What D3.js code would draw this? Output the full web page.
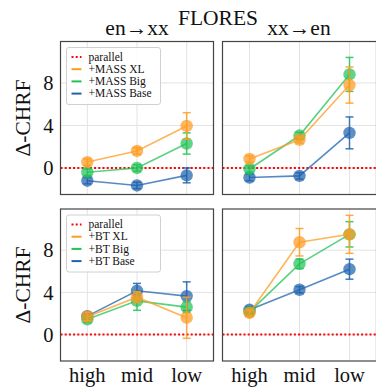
<!DOCTYPE html>
<html>
<head>
<meta charset="utf-8">
<script src="https://cdn.jsdelivr.net/npm/d3@7"></script>
</head>
<body style="margin:0; background:#fff">
<svg width="376" height="387"></svg>
<script>
// categories and tick labels
var levels = ["high", "mid", "low"];
var yTicks = [0, 4, 8];

// MASS, en->xx  (mean, error)
var massXlEnXx = [0.55, 1.6, 3.95];
var massXlEnXxErr = [0.3, 0.3, 1.25];
var massBigEnXx = [-0.4, 0.0, 2.3];
var massBigEnXxErr = [0.3, 0.3, 1.0];
var massBaseEnXx = [-1.2, -1.65, -0.7];
var massBaseEnXxErr = [0.3, 0.3, 0.7];

// MASS, xx->en
var massXlXxEn = [0.85, 2.65, 7.8];
var massXlXxEnErr = [0.3, 0.3, 1.7];
var massBigXxEn = [-0.1, 3.05, 8.8];
var massBigXxEnErr = [0.3, 0.3, 1.6];
var massBaseXxEn = [-0.9, -0.75, 3.3];
var massBaseXxEnErr = [0.3, 0.3, 1.5];

// BT, en->xx
var btXlEnXx = [1.7, 3.55, 1.6];
var btXlEnXxErr = [0.4, 0.5, 1.95];
var btBigEnXx = [1.45, 3.2, 2.6];
var btBigEnXxErr = [0.3, 0.9, 0.5];
var btBaseEnXx = [1.75, 4.15, 3.65];
var btBaseEnXxErr = [0.3, 0.7, 1.35];

// BT, xx->en
var btXlXxEn = [2.05, 8.75, 9.5];
var btXlXxEnErr = [0.3, 1.3, 1.8];
var btBigXxEn = [2.15, 6.7, 9.5];
var btBigXxEnErr = [0.3, 0.45, 1.2];
var btBaseXxEn = [2.35, 4.25, 6.2];
var btBaseXxEnErr = [0.3, 0.3, 0.95];

var colors = { xl: "#ff9b21", big: "#22c257", base: "#1f63ad" };
var FONT = "Liberation Serif";

var svg = d3.select("svg");

var colX = [[60.5, 213.5], [222.5, 376.5]];
var rowY = [[41.5, 194.5], [209, 361]];

var panels = [
    { col: 0, row: 0, series: [
        { key: "base", name: "+MASS Base", v: massBaseEnXx, e: massBaseEnXxErr },
        { key: "big", name: "+MASS Big", v: massBigEnXx, e: massBigEnXxErr },
        { key: "xl", name: "+MASS XL", v: massXlEnXx, e: massXlEnXxErr }] },
    { col: 1, row: 0, series: [
        { key: "base", v: massBaseXxEn, e: massBaseXxEnErr },
        { key: "big", v: massBigXxEn, e: massBigXxEnErr },
        { key: "xl", v: massXlXxEn, e: massXlXxEnErr }] },
    { col: 0, row: 1, series: [
        { key: "base", name: "+BT Base", v: btBaseEnXx, e: btBaseEnXxErr },
        { key: "big", name: "+BT Big", v: btBigEnXx, e: btBigEnXxErr },
        { key: "xl", name: "+BT XL", v: btXlEnXx, e: btXlEnXxErr }] },
    { col: 1, row: 1, series: [
        { key: "base", v: btBaseXxEn, e: btBaseXxEnErr },
        { key: "big", v: btBigXxEn, e: btBigXxEnErr },
        { key: "xl", v: btXlXxEn, e: btXlXxEnErr }] }
];

panels.forEach(function (p) {
    var x0 = colX[p.col][0], x1 = colX[p.col][1];
    var y0 = rowY[p.row][0], y1 = rowY[p.row][1];

    var x = d3.scalePoint().domain(levels).range([x0, x1]).padding(0.54);
    var y = d3.scaleLinear().domain([-2.5, 11.9]).range([y1, y0]);

    var g = svg.append("g");

    // grid
    g.selectAll("line.gx").data(levels).enter().append("line")
        .attr("x1", function (d) { return x(d); }).attr("x2", function (d) { return x(d); })
        .attr("y1", y0).attr("y2", y1)
        .attr("stroke", "#e3e3e3").attr("stroke-width", 1);
    g.selectAll("line.gy").data(yTicks).enter().append("line")
        .attr("x1", x0).attr("x2", x1)
        .attr("y1", function (d) { return y(d); }).attr("y2", function (d) { return y(d); })
        .attr("stroke", "#e3e3e3").attr("stroke-width", 1);

    // parallel baseline
    g.append("line")
        .attr("x1", x0).attr("x2", x1)
        .attr("y1", y(0)).attr("y2", y(0))
        .attr("stroke", "#ff0000").attr("stroke-width", 2)
        .attr("stroke-dasharray", "2,2.2");

    p.series.forEach(function (s) {
        var c = colors[s.key];
        var pts = s.v.map(function (v, i) { return { c: levels[i], v: v, e: s.e[i] }; });

        g.append("path")
            .datum(pts)
            .attr("fill", "none").attr("stroke", c).attr("stroke-width", 1.6)
            .attr("stroke-opacity", 0.75)
            .attr("d", d3.line().x(function (d) { return x(d.c); }).y(function (d) { return y(d.v); }));

        var eb = g.append("g").attr("stroke", c).attr("stroke-width", 1.5).attr("stroke-opacity", 0.85);
        pts.forEach(function (d) {
            var cx = x(d.c);
            eb.append("line").attr("x1", cx).attr("x2", cx)
                .attr("y1", y(d.v - d.e)).attr("y2", y(d.v + d.e));
            [d.v - d.e, d.v + d.e].forEach(function (t) {
                eb.append("line").attr("x1", cx - 4).attr("x2", cx + 4)
                    .attr("y1", y(t)).attr("y2", y(t));
            });
        });

        g.selectAll(null).data(pts).enter().append("circle")
            .attr("cx", function (d) { return x(d.c); })
            .attr("cy", function (d) { return y(d.v); })
            .attr("r", 6.2)
            .attr("fill", c).attr("fill-opacity", 0.72);
    });

    // frame
    g.append("rect")
        .attr("x", x0).attr("y", y0).attr("width", x1 - x0).attr("height", y1 - y0)
        .attr("fill", "none").attr("stroke", "#444").attr("stroke-width", 1.2);

    // y tick labels
    if (p.col === 0) {
        g.selectAll("text.yt").data(yTicks).enter().append("text")
            .attr("x", x0 - 7).attr("y", function (d) { return y(d); })
            .attr("dy", "0.35em").attr("text-anchor", "end")
            .attr("font-size", 20.5).attr("fill", "#111")
            .text(function (d) { return d; });

        svg.append("text")
            .attr("transform", "translate(30," + ((y0 + y1) / 2) + ") rotate(-90)")
            .attr("text-anchor", "middle").attr("font-size", 21.5).attr("fill", "#111")
            .text("Δ-CHRF");
    }

    // x tick labels
    if (p.row === 1) {
        g.selectAll("text.xt").data(levels).enter().append("text")
            .attr("x", function (d) { return x(d); }).attr("y", 382)
            .attr("text-anchor", "middle").attr("font-size", 20.5).attr("fill", "#111")
            .text(function (d) { return d; });
    }

    // legend
    if (p.col === 0) {
        var lg = g.append("g").attr("transform", "translate(" + (x0 + 6) + "," + (y0 + 6) + ")");
        lg.append("rect")
            .attr("width", 94).attr("height", 57).attr("rx", 2.5)
            .attr("fill", "#fff").attr("fill-opacity", 0.85)
            .attr("stroke", "#d0d0d0").attr("stroke-width", 1);
        var items = [{ name: "parallel", key: "par" }].concat(p.series.slice().reverse());
        items.forEach(function (it, i) {
            var yy = 9.5 + i * 12.2;
            var ln = lg.append("line")
                .attr("x1", 5).attr("x2", 15).attr("y1", yy).attr("y2", yy)
                .attr("stroke-width", 2);
            if (it.key === "par") {
                ln.attr("stroke", "#ff0000").attr("stroke-dasharray", "2,2.2");
            } else {
                ln.attr("stroke", colors[it.key]);
            }
            lg.append("text")
                .attr("x", 22).attr("y", yy).attr("dy", "0.33em")
                .attr("font-size", 11.5).attr("fill", "#111")
                .text(it.name);
        });
    }
});

// titles
svg.append("text").attr("x", 218).attr("y", 25).attr("text-anchor", "middle")
    .attr("font-size", 21.5).attr("fill", "#111").text("FLORES");
svg.append("text").attr("x", 137).attr("y", 35).attr("text-anchor", "middle")
    .attr("font-size", 21.5).attr("fill", "#111").text("en→xx");
svg.append("text").attr("x", 299).attr("y", 35).attr("text-anchor", "middle")
    .attr("font-size", 21.5).attr("fill", "#111").text("xx→en");

svg.selectAll("text").attr("font-family", FONT);
</script>
</body>
</html>
